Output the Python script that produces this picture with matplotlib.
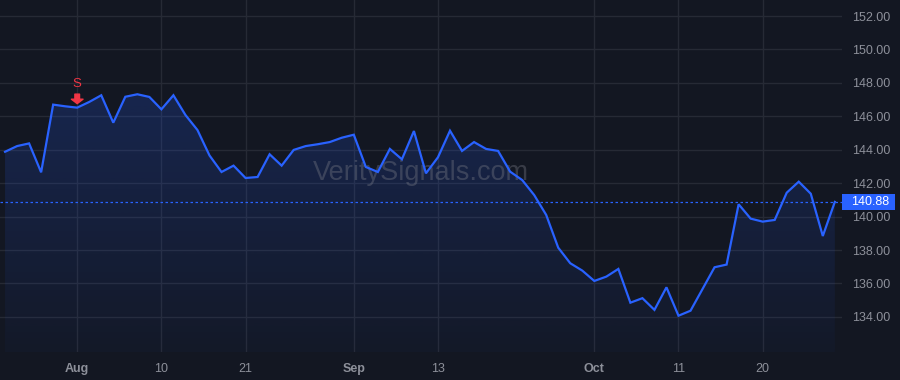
import matplotlib as mpl
import matplotlib.pyplot as plt
import numpy as np
from matplotlib.patches import Polygon, Rectangle
from matplotlib.transforms import offset_copy, blended_transform_factory

mpl.rcParams['font.family'] = ['Liberation Sans', 'DejaVu Sans']

# daily closes, 24 Jul - 30 Oct (trading days)
closes = [143.88, 144.22, 144.38, 142.65, 146.70, 146.60, 146.52, 146.86, 147.26, 145.62,
          147.17, 147.32, 147.16, 146.42, 147.26, 146.08, 145.18, 143.66, 142.67, 143.05,
          142.31, 142.37, 143.73, 143.05, 143.99, 144.22, 144.33, 144.46, 144.72, 144.90,
          142.97, 142.67, 144.05, 143.43, 145.12, 142.59, 143.55, 145.14, 143.93, 144.46,
          144.05, 143.93, 142.69, 142.19, 141.29, 140.10, 138.14, 137.21, 136.77, 136.15,
          136.41, 136.87, 134.85, 135.12, 134.42, 135.77, 134.07, 134.37, 135.67, 136.97,
          137.13, 140.74, 139.88, 139.70, 139.80, 141.43, 142.09, 141.37, 138.84, 140.88]

tick_pos = [6, 13, 20, 29, 36, 49, 56, 63]
tick_lbl = ['Aug', '10', '21', 'Sep', '13', 'Oct', '11', '20']
months = ['Aug', 'Sep', 'Oct']
y_ticks = [134, 136, 138, 140, 142, 144, 146, 148, 150, 152]
last_price = 140.88
signal_idx = 6
signal_txt = 'S'

BG = '#131722'
GRID = '#262a35'
BLUE = '#2962ff'
RED = '#f23645'
TXT = '#8d909a'

fig = plt.figure(figsize=(9, 3.8), dpi=100, facecolor=BG)
ax = fig.add_axes([0, 0.0737, 0.9356, 0.9263])
ax.set_facecolor(BG)

x = np.arange(len(closes))
ybot, ytop = 131.9, 152.96
ax.set_xlim(-0.42, len(closes) - 0.4)
ax.set_ylim(ybot, ytop)

# gradient area under the line
verts = [(x[0], ybot)] + list(zip(x, closes)) + [(x[-1], ybot)]
poly = Polygon(verts, closed=True, fc='none', ec='none')
ax.add_patch(poly)
grad = np.zeros((256, 1, 4))
grad[:, 0, :3] = mpl.colors.to_rgb(BLUE)
grad[:, 0, 3] = np.linspace(0.03, 0.2, 256)
im = ax.imshow(grad, origin='lower', aspect='auto', zorder=1,
               extent=[x[0], x[-1], ybot, max(closes)])
im.set_clip_path(poly)

ax.plot(x, closes, color=BLUE, lw=1.6, zorder=3, solid_joinstyle='miter')
ax.axhline(last_price, color=BLUE, lw=0.9, ls=(0, (2, 2)), zorder=2)

ax.set_xticks(tick_pos)
ax.set_xticklabels(tick_lbl)
for t in ax.get_xticklabels():
    if t.get_text() in months:
        t.set_fontweight('bold')
ax.set_yticks(y_ticks)
ax.set_yticklabels(['%.2f' % v for v in y_ticks])
ax.yaxis.tick_right()
ax.tick_params(axis='x', length=0, pad=8, labelsize=9, labelcolor=TXT)
ax.tick_params(axis='y', length=0, pad=7, labelsize=9, labelcolor=TXT)
ax.grid(True, color=GRID, lw=1)
ax.set_axisbelow(True)
for s in ax.spines.values():
    s.set_visible(False)

# watermark
ax.text(0.5, 0.508, 'VeritySignals.com', transform=ax.transAxes, ha='center', va='center',
        fontsize=19.5, color='#787b86', alpha=0.38, zorder=2)

# sell signal
sv = closes[signal_idx]
ax.annotate('', xy=(signal_idx, sv), xycoords=offset_copy(ax.transData, fig=fig, y=4, units='dots'),
            xytext=(0, 9.5), textcoords='offset pixels', zorder=5,
            arrowprops=dict(arrowstyle='simple,head_length=0.4,head_width=1.05,tail_width=0.42',
                            color=RED, shrinkA=0, shrinkB=0, mutation_scale=8))
ax.annotate(signal_txt, xy=(signal_idx, sv), xytext=(0, 23.5), textcoords='offset pixels',
            ha='center', va='center', color=RED, fontsize=9.5, zorder=5)

# last price label
bt = blended_transform_factory(ax.transAxes, ax.transData)
ax.add_patch(Rectangle((1.0, last_price - 0.47), 53 / 842, 0.94, transform=bt,
                       fc=BLUE, ec='none', clip_on=False, zorder=6))
ax.text(1.0 + 28 / 842, last_price, '%.2f' % last_price, transform=bt, ha='center',
        va='center', color='white', fontsize=9, zorder=7, clip_on=False)

fig.savefig('out.png', dpi=100, facecolor=BG)
